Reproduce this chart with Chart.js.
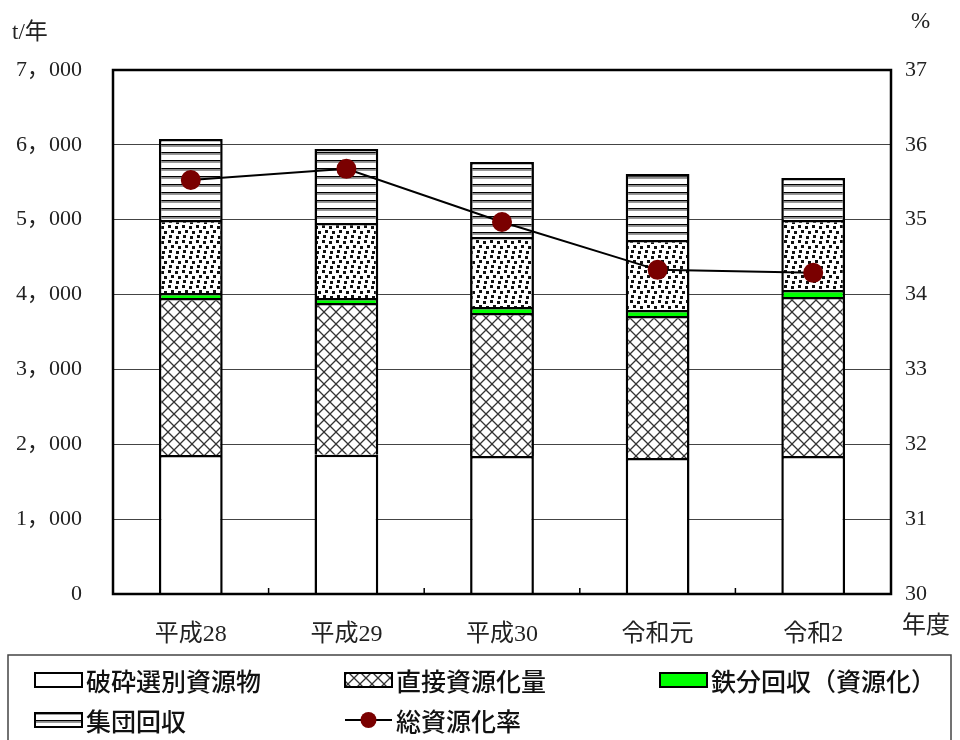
<!DOCTYPE html>
<html lang="ja">
<head>
<meta charset="UTF-8">
<title>資源化量の推移</title>
<script src="https://cdn.jsdelivr.net/npm/chart.js"></script>
<style>
    html, body { margin: 0; padding: 0; background: #fff; }
</style>
</head>
<body>
<canvas id="chartCanvas" width="960" height="740"></canvas>

<script>
    // 年度ごとのデータ (t/年, %)
    const categories = ['平成28', '平成29', '平成30', '令和元', '令和2'];
    const crushedSorted = [1857, 1860, 1843, 1817, 1843];   // 破砕選別資源物
    const directRecycle = [2097, 2027, 1911, 1897, 2124];   // 直接資源化量
    const ironRecovery = [67, 67, 80, 80, 94];              // 鉄分回収（資源化）
    const otherRecycle = [975, 1002, 935, 935, 935];        // 凡例なし（ドット）
    const groupCollection = [1082, 989, 1002, 882, 561];    // 集団回収
    const recycleRate = [35.53, 35.68, 34.97, 34.33, 34.29]; // 総資源化率
    const leftTicks = [0, 1000, 2000, 3000, 4000, 5000, 6000, 7000];
    const rightTicks = [30, 31, 32, 33, 34, 35, 36, 37];

    const serif = '"Liberation Serif", "Noto Sans CJK JP", serif';
    const gothic = '"Noto Sans CJK JP", sans-serif';

    // ハッチング用のパターン
    function makePattern(kind) {
        const c = document.createElement('canvas');
        const g = c.getContext('2d');
        if (kind === 'cross') {
            c.width = 12; c.height = 12;
            g.fillStyle = '#fff'; g.fillRect(0, 0, 12, 12);
            g.strokeStyle = '#333'; g.lineWidth = 1.3;
            g.beginPath();
            g.moveTo(0, 0); g.lineTo(12, 12);
            g.moveTo(12, 0); g.lineTo(0, 12);
            g.stroke();
        } else if (kind === 'dots') {
            c.width = 14; c.height = 15;
            g.fillStyle = '#fff'; g.fillRect(0, 0, 14, 15);
            g.fillStyle = '#111';
            [[0, 0], [7, 1], [3, 5], [10, 6], [1, 10], [8, 11]].forEach(p => g.fillRect(p[0], p[1], 3, 3));
        } else {
            c.width = 8; c.height = 8;
            g.fillStyle = '#fff'; g.fillRect(0, 0, 8, 8);
            g.fillStyle = '#000'; g.fillRect(0, 0, 8, 1.5);
            g.fillStyle = '#999'; g.fillRect(0, 1.5, 8, 1.5);
        }
        return g.createPattern(c, 'repeat');
    }

    const crossPat = makePattern('cross');
    const dotPat = makePattern('dots');
    const linePat = makePattern('lines');

    const barBorder = { top: 2.5, left: 2.5, right: 2.5, bottom: 0 };

    function barSet(label, data, bg, inLegend) {
        return {
            type: 'bar', label: label, data: data, backgroundColor: bg,
            borderColor: '#000', borderWidth: barBorder, borderSkipped: false,
            yAxisID: 'y', stack: 's', order: 1, inLegend: inLegend
        };
    }

    // 外枠・軸タイトル・凡例
    const decor = {
        id: 'decor',
        afterDraw(chart) {
            const ctx = chart.ctx;
            const a = chart.chartArea;
            const x = chart.scales.x;
            ctx.save();
            ctx.strokeStyle = '#000';
            ctx.lineWidth = 2.5;
            ctx.strokeRect(a.left, a.top, a.right - a.left, a.bottom - a.top);

            // 区切りの目盛
            ctx.lineWidth = 1.5;
            for (let i = 1; i < categories.length; i++) {
                const px = (x.getPixelForValue(i - 1) + x.getPixelForValue(i)) / 2;
                ctx.beginPath(); ctx.moveTo(px, a.bottom); ctx.lineTo(px, a.bottom - 6); ctx.stroke();
            }

            ctx.fillStyle = '#222';
            ctx.textBaseline = 'middle';
            ctx.font = '23px ' + serif;
            ctx.textAlign = 'left';
            ctx.fillText('t/年', 12, 33);
            ctx.fillText('%', 911, 22);
            ctx.font = '24px ' + serif;
            ctx.fillText('年度', 902, 627);

            // 凡例
            ctx.strokeStyle = '#444';
            ctx.lineWidth = 1.5;
            ctx.strokeRect(8, 655, 943, 95);
            const slots = [[35, 680], [345, 680], [660, 680], [35, 720], [345, 720]];
            const items = chart.data.datasets.filter(d => d.inLegend);
            ctx.font = '500 25px ' + gothic;
            items.forEach((d, i) => {
                const [sx, sy] = slots[i];
                if (d.type === 'line') {
                    ctx.strokeStyle = '#000'; ctx.lineWidth = 2;
                    ctx.beginPath(); ctx.moveTo(sx, sy); ctx.lineTo(sx + 47, sy); ctx.stroke();
                    ctx.fillStyle = d.pointBackgroundColor;
                    ctx.beginPath(); ctx.arc(sx + 23.5, sy, 8, 0, Math.PI * 2); ctx.fill();
                } else {
                    ctx.fillStyle = d.backgroundColor;
                    ctx.fillRect(sx, sy - 7, 47, 14);
                    ctx.strokeStyle = '#000'; ctx.lineWidth = 2;
                    ctx.strokeRect(sx, sy - 7, 47, 14);
                }
                ctx.fillStyle = '#111';
                ctx.fillText(d.label, sx + 51, sy + 1);
            });
            ctx.restore();
        }
    };

    const ctx = document.getElementById('chartCanvas').getContext('2d');
    const chart = new Chart(ctx, {
        data: {
            labels: categories,
            datasets: [
                barSet('破砕選別資源物', crushedSorted, '#fff', true),
                barSet('直接資源化量', directRecycle, crossPat, true),
                barSet('鉄分回収（資源化）', ironRecovery, '#00ff00', true),
                barSet('その他', otherRecycle, dotPat, false),
                barSet('集団回収', groupCollection, linePat, true),
                {
                    type: 'line', label: '総資源化率', data: recycleRate, yAxisID: 'y1',
                    borderColor: '#000', borderWidth: 2,
                    pointRadius: 9, pointHoverRadius: 9,
                    pointBackgroundColor: '#7a0000', pointBorderColor: '#7a0000',
                    order: 0, inLegend: true
                }
            ]
        },
        options: {
            responsive: false,
            animation: false,
            layout: { padding: { top: 70, left: 0, right: 0, bottom: 0 } },
            plugins: { legend: { display: false }, tooltip: { enabled: false } },
            datasets: { bar: { barPercentage: 0.41, categoryPercentage: 1 } },
            scales: {
                x: {
                    stacked: true,
                    grid: { display: false },
                    border: { display: false },
                    ticks: { color: '#222', font: { family: serif, size: 24 }, padding: 18 },
                    afterFit: s => { s.height = 146; }
                },
                y: {
                    stacked: true, position: 'left', min: 0, max: 7000,
                    afterBuildTicks: s => { s.ticks = leftTicks.map(v => ({ value: v })); },
                    grid: { color: '#444', lineWidth: 1, drawTicks: false },
                    border: { display: false },
                    ticks: {
                        color: '#222', font: { family: serif, size: 22 }, padding: 31,
                        callback: v => v >= 1000 ? Math.floor(v / 1000) + '，' + String(v % 1000).padStart(3, '0') : String(v)
                    },
                    afterFit: s => { s.width = 113; }
                },
                y1: {
                    position: 'right', min: 30, max: 37,
                    afterBuildTicks: s => { s.ticks = rightTicks.map(v => ({ value: v })); },
                    grid: { display: false, drawTicks: false },
                    border: { display: false },
                    ticks: { color: '#222', font: { family: serif, size: 22 }, padding: 14 },
                    afterFit: s => { s.width = 69; }
                }
            }
        },
        plugins: [decor]
    });
</script>
</body>
</html>
